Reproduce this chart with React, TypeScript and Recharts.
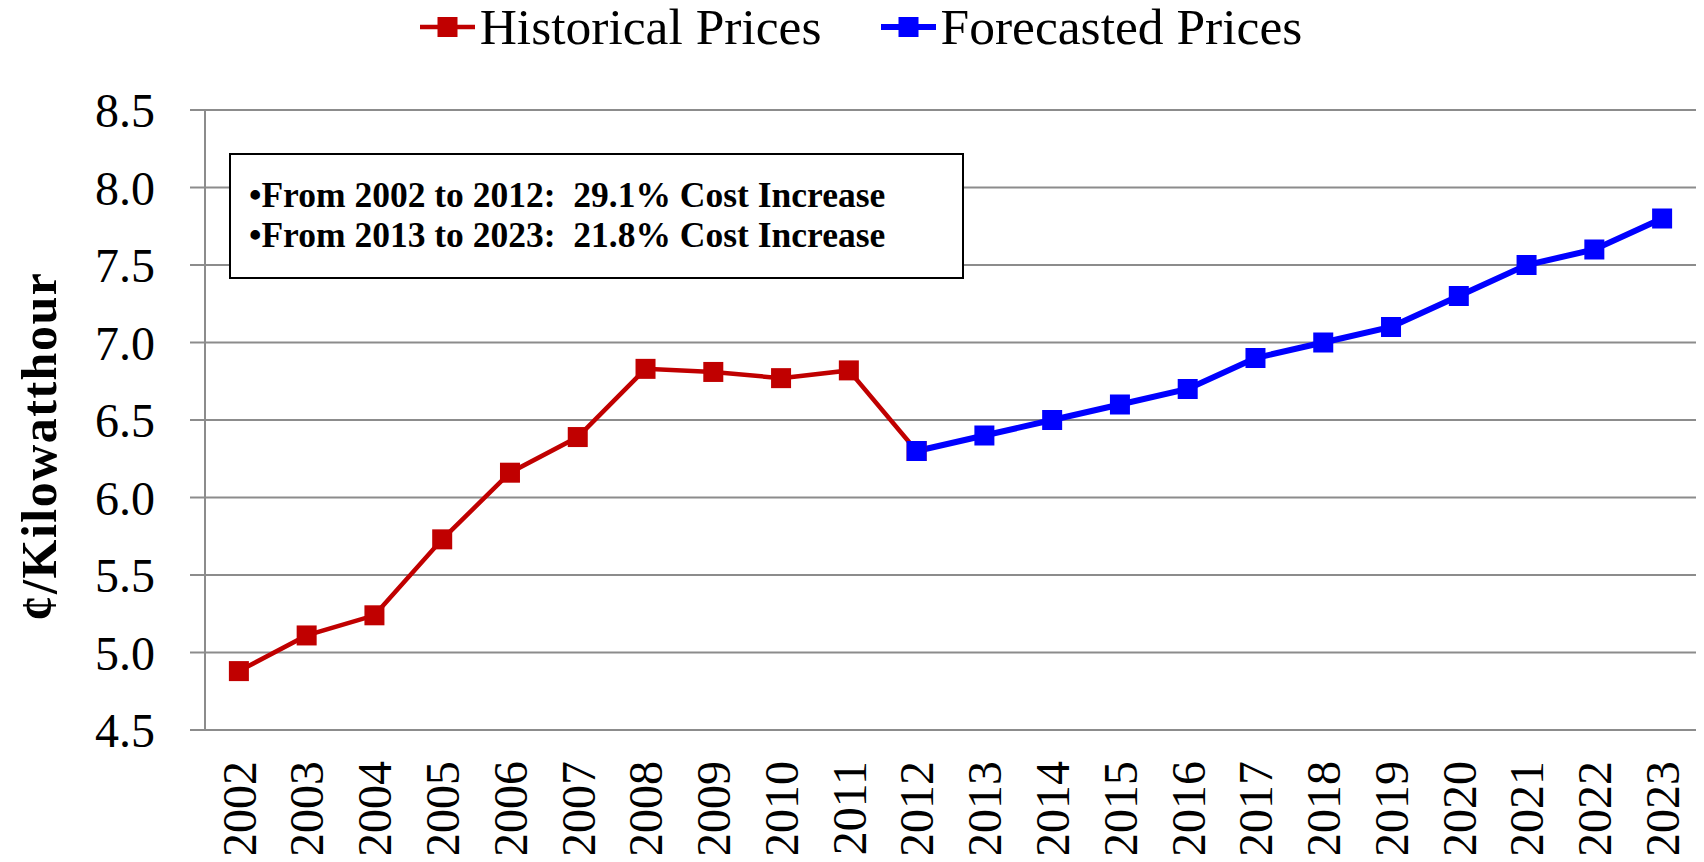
import {
  LineChart,
  Line,
  XAxis,
  YAxis,
  CartesianGrid,
  Legend,
} from 'recharts';

// Years on the category axis
const YEARS = [
  '2002', '2003', '2004', '2005', '2006', '2007', '2008', '2009', '2010', '2011', '2012',
  '2013', '2014', '2015', '2016', '2017', '2018', '2019', '2020', '2021', '2022', '2023',
];

// ¢/kWh, 2002 -> 2012
const HISTORICAL = [4.88, 5.11, 5.24, 5.73, 6.16, 6.39, 6.83, 6.81, 6.77, 6.82, 6.3];

// ¢/kWh, 2012 -> 2023
const FORECAST = [6.3, 6.4, 6.5, 6.6, 6.7, 6.9, 7.0, 7.1, 7.3, 7.5, 7.6, 7.8];

const Y_TICKS = [4.5, 5.0, 5.5, 6.0, 6.5, 7.0, 7.5, 8.0, 8.5];

const NOTES = [
  '•From 2002 to 2012:  29.1% Cost Increase',
  '•From 2013 to 2023:  21.8% Cost Increase',
];

const RED = '#C00000';
const BLUE = '#0000FF';
const GRID = '#8c8c8c';
const FONT = '"Liberation Serif", "Times New Roman", serif';

const forecastStart = YEARS.length - FORECAST.length;

const data = YEARS.map((year, i) => ({
  year,
  pos: i + 0.5,
  historical: i < HISTORICAL.length ? HISTORICAL[i] : null,
  forecast: i >= forecastStart ? FORECAST[i - forecastStart] : null,
}));

const boundaryTicks = [...YEARS.map((_, i) => i), YEARS.length];
const centerTicks = YEARS.map((_, i) => i + 0.5);

function squareDot(color: string) {
  return (props: any) => {
    const { cx, cy, index } = props;
    if (cx == null || cy == null) return <g key={`d-${index}`} />;
    return <rect key={`d-${index}`} x={cx - 10} y={cy - 10} width={20} height={20} fill={color} />;
  };
}

function YearTick(props: any) {
  const { x, y, payload } = props;
  const label = YEARS[Math.floor(payload.value)];
  return (
    <text
      x={x}
      y={y + 31}
      transform={`rotate(-90, ${x}, ${y + 31})`}
      textAnchor="end"
      dy="0.35em"
      fontSize={48}
      fontFamily={FONT}
      fill="#000"
    >
      {label}
    </text>
  );
}

function YTitle(props: any) {
  const { viewBox } = props;
  const cx = viewBox.x + 38;
  const cy = viewBox.y + viewBox.height / 2 + 26;
  return (
    <text
      x={cx}
      y={cy}
      transform={`rotate(-90, ${cx}, ${cy})`}
      textAnchor="middle"
      dy="0.35em"
      fontSize={50}
      fontWeight="bold"
      letterSpacing={1.5}
      fontFamily={FONT}
      fill="#000"
    >
      ¢/Kilowatthour
    </text>
  );
}

function LegendContent() {
  const items = [
    { label: 'Historical Prices', color: RED, width: 4.5 },
    { label: 'Forecasted Prices', color: BLUE, width: 6 },
  ];
  return (
    <div
      style={{
        display: 'flex',
        justifyContent: 'center',
        alignItems: 'center',
        gap: 59,
        paddingLeft: 18,
        fontFamily: FONT,
        fontSize: 51.5,
        lineHeight: '48px',
        color: '#000',
      }}
    >
      {items.map((it) => (
        <div key={it.label} style={{ display: 'flex', alignItems: 'center' }}>
          <svg width={55} height={24} style={{ marginRight: 5 }}>
            <line x1={0} x2={55} y1={12} y2={12} stroke={it.color} strokeWidth={it.width} />
            <rect x={17.5} y={2} width={20} height={20} fill={it.color} />
          </svg>
          <span>{it.label}</span>
        </div>
      ))}
    </div>
  );
}

export default function App() {
  return (
    <div style={{ position: 'relative', margin: -8, width: 1704, height: 862, fontFamily: FONT }}>
      <LineChart
        width={1704}
        height={862}
        data={data}
        margin={{ top: 110, right: 8, bottom: 0, left: 0 }}
      >
        <CartesianGrid
          xAxisId="labels"
          vertical={false}
          stroke={GRID}
          strokeWidth={2}
        />
        <XAxis
          xAxisId="ticks"
          type="number"
          dataKey="pos"
          domain={[0, YEARS.length]}
          ticks={boundaryTicks}
          interval={0}
          height={0}
          tick={false}
          tickSize={15}
          axisLine={{ stroke: GRID, strokeWidth: 2 }}
          tickLine={{ stroke: GRID, strokeWidth: 2 }}
        />
        <XAxis
          xAxisId="labels"
          type="number"
          dataKey="pos"
          domain={[0, YEARS.length]}
          ticks={centerTicks}
          interval={0}
          height={132}
          tickSize={0}
          tickMargin={0}
          axisLine={false}
          tickLine={false}
          tick={<YearTick />}
        />
        <YAxis
          type="number"
          domain={[4.5, 8.5]}
          ticks={Y_TICKS}
          interval={0}
          width={205}
          tickSize={15}
          tickMargin={35}
          tickFormatter={(v: number) => v.toFixed(1)}
          tick={{ fontSize: 48, fill: '#000', fontFamily: FONT }}
          axisLine={{ stroke: GRID, strokeWidth: 2 }}
          tickLine={{ stroke: GRID, strokeWidth: 2 }}
          label={<YTitle />}
        />
        <Legend
          layout="horizontal"
          verticalAlign="middle"
          align="center"
          content={<LegendContent />}
          wrapperStyle={{ top: 3, left: 0, width: 1704, height: 48 }}
        />
        <Line
          xAxisId="labels"
          type="linear"
          dataKey="historical"
          name="Historical Prices"
          stroke={RED}
          strokeWidth={4.5}
          dot={squareDot(RED)}
          activeDot={false}
          isAnimationActive={false}
        />
        <Line
          xAxisId="labels"
          type="linear"
          dataKey="forecast"
          name="Forecasted Prices"
          stroke={BLUE}
          strokeWidth={6}
          dot={squareDot(BLUE)}
          activeDot={false}
          isAnimationActive={false}
        />
      </LineChart>
      <div
        style={{
          position: 'absolute',
          left: 229,
          top: 153,
          width: 735,
          height: 126,
          boxSizing: 'border-box',
          border: '2px solid #000',
          background: '#fff',
          paddingTop: 20,
          paddingLeft: 18,
          fontFamily: FONT,
          fontWeight: 'bold',
          fontSize: 35.5,
          lineHeight: '40px',
          whiteSpace: 'pre',
          color: '#000',
        }}
      >
        {NOTES.map((n) => (
          <div key={n}>{n}</div>
        ))}
      </div>
    </div>
  );
}
